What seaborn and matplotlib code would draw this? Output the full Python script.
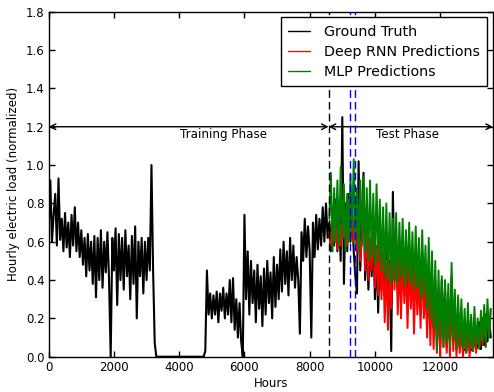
import numpy as np
import pandas as pd
import matplotlib
matplotlib.use("Agg")
import matplotlib.pyplot as plt
import seaborn as sns

# Sampling interval of the stored series (hours between consecutive values)
STEP = 50

# Ground-truth hourly load, training phase (0 .. 8550 h)
truth_train = [
    0.66, 0.92, 0.60, 0.74, 0.85, 0.58, 0.93, 0.61, 0.72, 0.55,
    0.75, 0.57, 0.70, 0.52, 0.74, 0.58, 0.78, 0.55, 0.70, 0.52,
    0.66, 0.48, 0.62, 0.42, 0.64, 0.45, 0.60, 0.38, 0.63, 0.31,
    0.62, 0.40, 0.66, 0.36, 0.60, 0.44, 0.65, 0.40, 0.00, 0.62,
    0.45, 0.67, 0.27, 0.64, 0.40, 0.62, 0.35, 0.66, 0.42, 0.58,
    0.30, 0.63, 0.38, 0.68, 0.20, 0.60, 0.42, 0.62, 0.33, 0.60,
    0.40, 0.62, 0.45, 1.00, 0.45, 0.07, 0.00, 0.00, 0.00, 0.00,
    0.00, 0.00, 0.00, 0.00, 0.00, 0.00, 0.00, 0.00, 0.00, 0.00,
    0.00, 0.00, 0.00, 0.00, 0.00, 0.00, 0.00, 0.00, 0.00, 0.00,
    0.00, 0.00, 0.00, 0.00, 0.00, 0.00, 0.03, 0.45, 0.22, 0.33,
    0.20, 0.32, 0.22, 0.34, 0.18, 0.33, 0.24, 0.36, 0.20, 0.33,
    0.22, 0.40, 0.18, 0.41, 0.14, 0.30, 0.10, 0.28, 0.08, 0.00,
    0.74, 0.30, 0.55, 0.22, 0.50, 0.28, 0.45, 0.18, 0.48, 0.25,
    0.42, 0.16, 0.46, 0.22, 0.50, 0.28, 0.44, 0.20, 0.52, 0.26,
    0.48, 0.30, 0.56, 0.34, 0.60, 0.38, 0.55, 0.32, 0.62, 0.40,
    0.58, 0.36, 0.52, 0.40, 0.12, 0.65, 0.50, 0.72, 0.52, 0.68,
    0.55, 0.10, 0.70, 0.52, 0.74, 0.56, 0.72, 0.58, 0.78, 0.60,
    0.80, 0.62,
]

# Ground-truth hourly load, test phase (8600 .. 13550 h)
truth_test = [
    0.70, 0.55, 0.78, 0.58, 0.82, 0.55, 0.75, 0.50, 1.25, 0.38,
    0.80, 0.55, 0.85, 0.60, 0.78, 0.55, 0.42, 0.33, 1.02, 0.45,
    0.70, 0.96, 0.40, 0.65, 0.35, 0.60, 0.42, 0.65, 0.30, 0.55,
    0.23, 0.60, 0.35, 0.55, 0.32, 0.58, 0.30, 0.50, 0.03, 0.86,
    0.40, 0.60, 0.35, 0.55, 0.30, 0.58, 0.38, 0.52, 0.28, 0.55,
    0.35, 0.50, 0.30, 0.52, 0.28, 0.45, 0.25, 0.55, 0.30, 0.45,
    0.20, 0.48, 0.25, 0.42, 0.15, 0.40, 0.10, 0.35, 0.05, 0.40,
    0.12, 0.35, 0.05, 0.30, 0.10, 0.42, 0.08, 0.25, 0.04, 0.22,
    0.05, 0.18, 0.03, 0.04, 0.03, 0.15, 0.04, 0.04, 0.03, 0.12,
    0.04, 0.05, 0.18, 0.04, 0.20, 0.06, 0.22, 0.08, 0.20, 0.10,
]

# Deep RNN forecasts over the test phase
rnn_pred = [
    0.65, 0.58, 0.72, 0.60, 0.78, 0.56, 0.70, 0.58, 0.80, 0.62,
    0.76, 0.58, 0.82, 0.62, 0.74, 0.60, 0.68, 0.55, 0.78, 0.50,
    0.62, 0.80, 0.45, 0.68, 0.40, 0.62, 0.45, 0.70, 0.36, 0.58,
    0.32, 0.62, 0.30, 0.55, 0.18, 0.50, 0.14, 0.48, 0.25, 0.60,
    0.35, 0.58, 0.22, 0.52, 0.20, 0.55, 0.28, 0.48, 0.15, 0.50,
    0.25, 0.45, 0.12, 0.50, 0.22, 0.42, 0.15, 0.50, 0.20, 0.40,
    0.10, 0.42, 0.06, 0.38, 0.04, 0.35, 0.02, 0.30, 0.00, 0.32,
    0.05, 0.28, 0.02, 0.25, 0.00, 0.30, 0.03, 0.20, 0.00, 0.18,
    0.02, 0.15, 0.00, 0.12, 0.02, 0.15, 0.00, 0.10, 0.03, 0.12,
    0.02, 0.15, 0.05, 0.14, 0.06, 0.20, 0.08, 0.22, 0.12, 0.25,
]

# MLP forecasts over the test phase
mlp_pred = [
    0.72, 0.96, 0.55, 0.88, 0.60, 0.92, 0.58, 0.99, 0.62, 0.90,
    0.55, 0.85, 0.60, 0.95, 0.65, 1.03, 0.60, 0.88, 0.55, 0.92,
    0.58, 0.94, 0.55, 0.88, 0.50, 0.92, 0.52, 0.85, 0.48, 0.90,
    0.50, 0.82, 0.45, 0.78, 0.42, 0.80, 0.40, 0.75, 0.38, 0.72,
    0.40, 0.75, 0.38, 0.70, 0.42, 0.72, 0.37, 0.66, 0.40, 0.70,
    0.38, 0.65, 0.35, 0.68, 0.36, 0.62, 0.30, 0.66, 0.32, 0.58,
    0.25, 0.62, 0.20, 0.55, 0.15, 0.50, 0.03, 0.45, 0.10, 0.42,
    0.05, 0.40, 0.08, 0.38, 0.05, 0.49, 0.10, 0.35, 0.04, 0.32,
    0.06, 0.30, 0.04, 0.25, 0.02, 0.28, 0.05, 0.22, 0.03, 0.26,
    0.06, 0.20, 0.04, 0.24, 0.08, 0.27, 0.05, 0.30, 0.10, 0.25,
]

TEST_START = 8580        # boundary between training and test phases
MARKERS_BLUE = [9250, 9380]
X_END = 13620

sns.set_style("ticks")
plt.rcParams.update({
    "font.family": ["DejaVu Sans"],
    "axes.edgecolor": "black",
    "axes.linewidth": 1.0,
    "xtick.color": "black",
    "ytick.color": "black",
    "text.color": "black",
    "axes.labelcolor": "black",
})

truth = truth_train + truth_test
df_truth = pd.DataFrame({"hour": np.arange(len(truth)) * STEP, "load": truth})
test_hours = (len(truth_train) + np.arange(len(truth_test))) * STEP
df_rnn = pd.DataFrame({"hour": test_hours, "load": rnn_pred})
df_mlp = pd.DataFrame({"hour": test_hours, "load": mlp_pred})

fig = plt.figure(figsize=(4.94, 3.92), dpi=100)
ax = fig.add_axes([0.0986, 0.090, 0.8994, 0.880])

sns.lineplot(data=df_truth, x="hour", y="load", color="black", lw=1.5,
             label="Ground Truth", ax=ax, zorder=2)
sns.lineplot(data=df_rnn, x="hour", y="load", color="red", lw=1.4,
             label="Deep RNN Predictions", ax=ax, zorder=3)
sns.lineplot(data=df_mlp, x="hour", y="load", color="green", lw=1.4,
             label="MLP Predictions", ax=ax, zorder=4)

ax.axvline(TEST_START, color="black", ls=(0, (5.5, 3)), lw=1.0, zorder=5)
for xb in MARKERS_BLUE:
    ax.axvline(xb, color="blue", ls=(0, (5.5, 3)), lw=1.0, zorder=5)

# Phase arrows
arrow = dict(arrowstyle="<->", color="black", lw=1.0, shrinkA=0, shrinkB=0)
ax.annotate("", xy=(0, 1.2), xytext=(TEST_START, 1.2), arrowprops=arrow)
ax.annotate("", xy=(TEST_START, 1.2), xytext=(X_END, 1.2), arrowprops=arrow)
ax.text(5365, 1.193, "Training Phase", ha="center", va="top", fontsize=8.6)
ax.text(11010, 1.193, "Test Phase", ha="center", va="top", fontsize=8.6)

ax.set_xlim(0, X_END)
ax.set_ylim(0, 1.8)
ax.set_xticks(np.arange(0, 12001, 2000))
ax.set_yticks(np.round(np.arange(0, 1.81, 0.2), 1))
ax.set_yticklabels([f"{v:.1f}" for v in np.arange(0, 1.81, 0.2)])
ax.tick_params(direction="in", top=True, right=True, length=4, width=1,
               labelsize=8.5, pad=3)
ax.set_xlabel("Hours", fontsize=8.5, labelpad=2)
ax.set_ylabel("Hourly electric load (normalized)", fontsize=8.5, labelpad=4)

leg = ax.legend(loc="upper right", fontsize=10.3, handlelength=1.5,
                handletextpad=1.0, labelspacing=0.42, borderaxespad=0.4,
                fancybox=False, framealpha=1, edgecolor="black",
                borderpad=0.5)
leg.get_frame().set_linewidth(1.0)
for handle in leg.legend_handles:
    handle.set_linewidth(1.0)
leg.set_zorder(10)

fig.savefig("out.png", dpi=100)
